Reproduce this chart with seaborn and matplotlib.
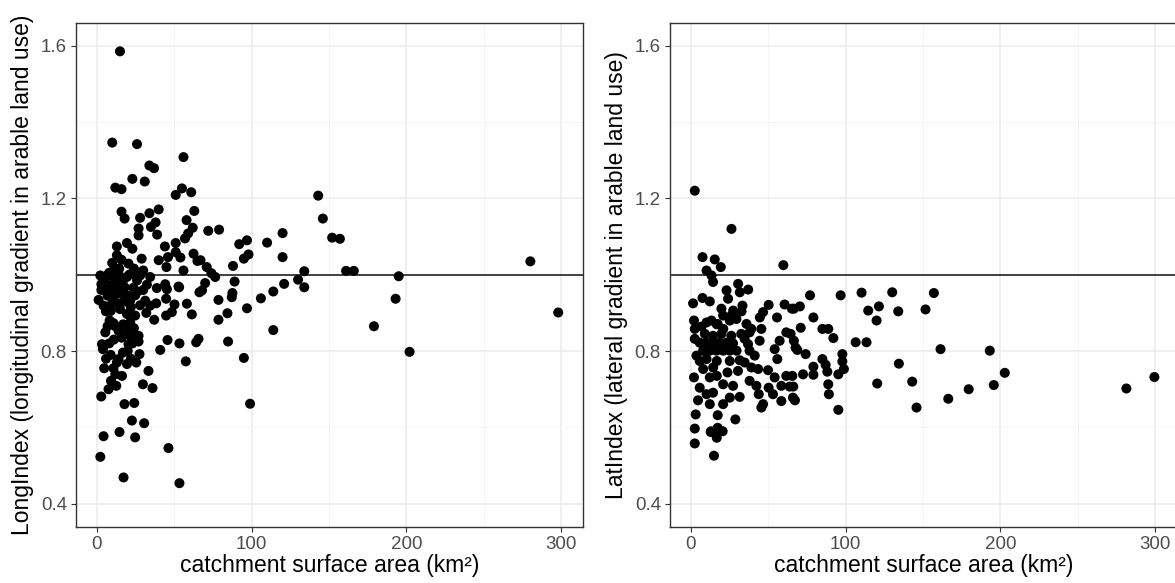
import matplotlib
matplotlib.use("Agg")
import matplotlib.pyplot as plt
from matplotlib.ticker import MultipleLocator
import seaborn as sns
import pandas as pd

# Catchment area (km²) and longitudinal index per catchment
long_area = [
    15, 10, 26, 56, 34, 37, 23, 31, 12, 16, 55, 61, 51, 143, 146, 152, 157, 161, 166,
    120, 110, 97, 92, 98, 95, 120, 88, 134, 130, 134, 121, 114, 106, 193, 195, 280,
    298, 202, 179, 114, 97, 95, 99, 72, 79,
    16, 18, 28, 34, 40, 38, 35, 39, 27, 27, 63, 58, 62, 59, 57,
    19.5, 13, 23, 51, 44, 51, 13, 16, 29, 40, 46, 54, 62.5, 65, 10, 20.5, 24, 45, 56,
    71, 14.5, 30, 74, 67,
    2.3, 6.6, 10.8, 14.5, 19.5, 23.5, 28, 34.5, 76.5,
    3, 8.7, 13, 18, 23.7, 32.4, 38.8, 44.2, 45.3, 52.8, 70, 6.6, 66.3, 68, 89,
    1.2, 4.4, 9.8, 14.7, 21.6, 24.8, 31.3, 34.5, 38.4, 44.8, 50.2, 58.2, 61.4, 5.9,
    19.5, 24.8, 44.8, 48.5, 87.6, 87.2, 78.6, 84.4, 53.2,
    8.3, 10.8, 21.6, 37.1, 78.6, 5.5, 14.1, 19.5, 21.6, 27, 27, 20.5, 3.4, 4, 45.7,
    53.4, 41, 64.2, 65.7, 84.8, 57.5,
    16.9, 14.1, 19.5, 27.6, 25.5, 4.8, 10.8, 12, 16.3, 33.4, 9.2, 12.6, 7.6, 29.8, 36,
    2.9, 17.9, 24.2, 22.7, 30.6, 4.4, 14.7, 24.8, 46.3, 2.3, 17.3, 53.4,
    5, 8, 11, 17, 21, 26, 12, 16, 20, 7, 3, 26, 30, 11, 18, 28, 9, 15, 22, 32,
    7, 12, 17, 24, 16, 11, 8, 23, 20, 9, 6, 13, 22,
]
long_index = [
    1.585, 1.346, 1.342, 1.308, 1.286, 1.279, 1.251, 1.244, 1.228, 1.224, 1.226, 1.216,
    1.209, 1.207, 1.147, 1.097, 1.094, 1.010, 1.010, 1.109, 1.084, 1.090, 1.080, 1.053,
    1.042, 1.046, 1.023, 1.009, 0.987, 0.967, 0.976, 0.956, 0.938, 0.937, 0.996, 1.035,
    0.901, 0.798, 0.865, 0.855, 0.912, 0.782, 0.662, 1.115, 1.118,
    1.165, 1.147, 1.149, 1.161, 1.171, 1.137, 1.125, 1.105, 1.121, 1.103, 1.167, 1.143,
    1.123, 1.108, 1.095,
    1.083, 1.074, 1.068, 1.083, 1.074, 1.059, 1.051, 1.039, 1.042, 1.038, 1.046, 1.045,
    1.055, 1.036, 1.031, 1.029, 1.016, 1.020, 1.011, 1.020, 1.016, 1.011, 1.004, 1.038,
    0.998, 0.998, 0.994, 0.998, 0.994, 1.003, 0.998, 0.994, 0.994,
    0.975, 0.972, 0.974, 0.967, 0.966, 0.974, 0.965, 0.975, 0.962, 0.969, 0.978, 0.959,
    0.954, 0.959, 0.982,
    0.934, 0.919, 0.924, 0.924, 0.932, 0.946, 0.932, 0.919, 0.925, 0.937, 0.922, 0.924,
    0.896, 0.904, 0.897, 0.893, 0.893, 0.902, 0.952, 0.941, 0.934, 0.899, 0.967,
    0.880, 0.873, 0.875, 0.882, 0.882, 0.849, 0.853, 0.855, 0.840, 0.840, 0.825, 0.818,
    0.818, 0.805, 0.829, 0.820, 0.803, 0.823, 0.832, 0.825, 0.773,
    0.796, 0.779, 0.766, 0.792, 0.770, 0.755, 0.755, 0.739, 0.735, 0.748, 0.722, 0.709,
    0.700, 0.713, 0.703, 0.681, 0.661, 0.664, 0.618, 0.611, 0.577, 0.588, 0.574, 0.546,
    0.523, 0.469, 0.454,
    0.985, 1.005, 1.012, 0.985, 1.000, 0.985, 0.960, 0.950, 0.945, 0.945, 0.960, 0.955,
    0.960, 0.940, 0.930, 0.920, 0.905, 0.910, 0.915, 0.900,
    0.865, 0.865, 0.870, 0.860, 0.835, 0.830, 0.820, 0.820, 0.800, 0.790, 0.780, 0.770,
    0.780,
]

# Catchment area (km²) and lateral index per catchment
lat_area = [
    2.6, 26.3, 7.6, 15.5, 19.4, 10.2, 13.4, 14.4, 59.8,
    30.6, 37.1, 23.1, 31.7, 24.1, 1.5, 7.6, 12.3, 19.8, 27.4, 33.4, 32.8,
    2.1, 10.2, 13.4, 2.6, 6.9, 16.8, 21, 25.2, 36, 44.6, 46.7, 50.3, 55.7, 60.6, 65.3,
    45.6, 61.7, 57.4, 44.5, 54.2, 55.9, 38, 41.3, 34.8, 30.5, 39.2, 43.5, 49.9, 54.2,
    61.7, 38, 42.4, 50.3, 43.9, 45.6, 46.7, 53.1, 58.5, 66, 63.9, 58.5,
    2.6, 3.7, 2.1, 5.8, 4.7, 3.2, 2.6, 2.6, 15, 17.4, 13.1, 17.4, 20.6, 28.8, 16.8,
    12.3, 20.9, 10.2, 14.4, 25.2, 31.6, 27.3, 20.9, 12.3, 16.8, 23.7, 8, 14.5, 5.8,
    10.2, 16.8, 25.2, 31.6, 8, 12.3, 16.6, 21, 25.2, 29.6, 5.8, 10.2, 14.5, 18.7, 23,
    27.3, 9.1, 14.4, 19.8, 26.2, 32.6, 38, 34.8, 37, 39.1, 17.3, 20.9, 26.3, 29.5,
    66.6, 70.5, 79.2, 71, 85, 88.8, 92.1, 66.6, 67.7, 68.8, 74.2, 97.9, 97.9, 98.9,
    85, 87.1, 88.2, 79.2, 79.2, 72.5, 95.3, 88.8, 89.2, 95.3, 65.6, 66.2, 67.3, 64.5,
    77, 96.8, 110.3, 130.1, 157, 114.6, 121.5, 120, 134, 151.6, 106.5, 113.5, 161.3,
    134.4, 143, 120.4, 145.8, 166.3, 179.5, 193.1, 195.7, 202.8, 281.3, 299.4,
    17.2, 12.9,
]
lat_index = [
    1.220, 1.120, 1.046, 1.040, 1.020, 1.011, 0.998, 0.981, 1.025,
    0.976, 0.961, 0.959, 0.954, 0.937, 0.925, 0.939, 0.930, 0.911, 0.906, 0.919, 0.904,
    0.880, 0.875, 0.880, 0.858, 0.864, 0.870, 0.858, 0.880, 0.871, 0.888, 0.902, 0.921,
    0.888, 0.922, 0.911, 0.858, 0.849, 0.827, 0.827, 0.805, 0.779, 0.801, 0.788, 0.770,
    0.748, 0.757, 0.753, 0.750, 0.731, 0.735, 0.722, 0.709, 0.704, 0.687, 0.652, 0.661,
    0.687, 0.669, 0.678, 0.707, 0.709,
    0.832, 0.788, 0.731, 0.704, 0.671, 0.634, 0.597, 0.558, 0.526, 0.632, 0.590, 0.599,
    0.590, 0.621, 0.573, 0.661, 0.661, 0.687, 0.691, 0.678, 0.680, 0.709, 0.713, 0.731,
    0.735, 0.744, 0.753, 0.757, 0.774, 0.779, 0.774, 0.774, 0.776, 0.801, 0.801, 0.801,
    0.801, 0.801, 0.801, 0.822, 0.822, 0.822, 0.822, 0.822, 0.820, 0.845, 0.840, 0.845,
    0.840, 0.845, 0.849, 0.832, 0.818, 0.858, 0.871, 0.893, 0.893, 0.884,
    0.911, 0.917, 0.888, 0.861, 0.858, 0.858, 0.834, 0.827, 0.809, 0.803, 0.792, 0.792,
    0.773, 0.753, 0.779, 0.764, 0.746, 0.759, 0.738, 0.739, 0.739, 0.713, 0.687, 0.646,
    0.735, 0.707, 0.671, 0.845,
    0.946, 0.946, 0.953, 0.954, 0.952, 0.906, 0.917, 0.880, 0.904, 0.909, 0.823, 0.823,
    0.805, 0.767, 0.720, 0.715, 0.652, 0.675, 0.700, 0.801, 0.711, 0.743, 0.702, 0.732,
    0.597, 0.588,
]

x_title = "catchment surface area (km²)"
panels = [
    (long_area, long_index, "LongIndex (longitudinal gradient in arable land use)"),
    (lat_area, lat_index, "LatIndex (lateral gradient in arable land use)"),
]

sns.set_style("white")
plt.rcParams["font.family"] = ["Liberation Sans", "DejaVu Sans"]

fig = plt.figure(figsize=(11.75, 5.83), dpi=100)
ax_w, ax_h = 507 / 1175, 504 / 583
lefts = [76 / 1175, 670 / 1175]
bottom = 56.3 / 583

for left, (xs, ys, ylab) in zip(lefts, panels):
    ax = fig.add_axes([left, bottom, ax_w, ax_h])
    df = pd.DataFrame({"area": xs, "index": ys})
    ax.set_xlim(-13.4, 314)
    ax.set_ylim(0.34, 1.66)
    ax.xaxis.set_major_locator(MultipleLocator(100))
    ax.xaxis.set_minor_locator(MultipleLocator(50))
    ax.yaxis.set_minor_locator(MultipleLocator(0.2))
    ax.set_yticks([0.4, 0.8, 1.2, 1.6])
    ax.set_yticklabels(["0.4", "0.8", "1.2", "1.6"])
    ax.grid(True, which="major", color="#EBEBEB", linewidth=1.1, zorder=0)
    ax.grid(True, which="minor", color="#F4F4F4", linewidth=0.6, zorder=0)
    ax.set_axisbelow(True)
    sns.scatterplot(data=df, x="area", y="index", ax=ax, color="black",
                    s=52, edgecolor="none", linewidth=0, zorder=3)
    ax.axhline(1.0, color="#222222", linewidth=1.2, zorder=2)
    for sp in ax.spines.values():
        sp.set_color("#333333")
        sp.set_linewidth(1.0)
    ax.tick_params(which="major", direction="out", length=3.5, width=0.8,
                   color="#333333", labelcolor="#4D4D4D", labelsize=13.5, pad=3,
                   left=True, bottom=True)
    ax.tick_params(which="minor", length=0)
    ax.set_xlabel(x_title, fontsize=16.5, color="black", labelpad=1)
    ax.set_ylabel(ylab, fontsize=16.5, color="black", labelpad=5)

fig.savefig("out.png", dpi=100)
